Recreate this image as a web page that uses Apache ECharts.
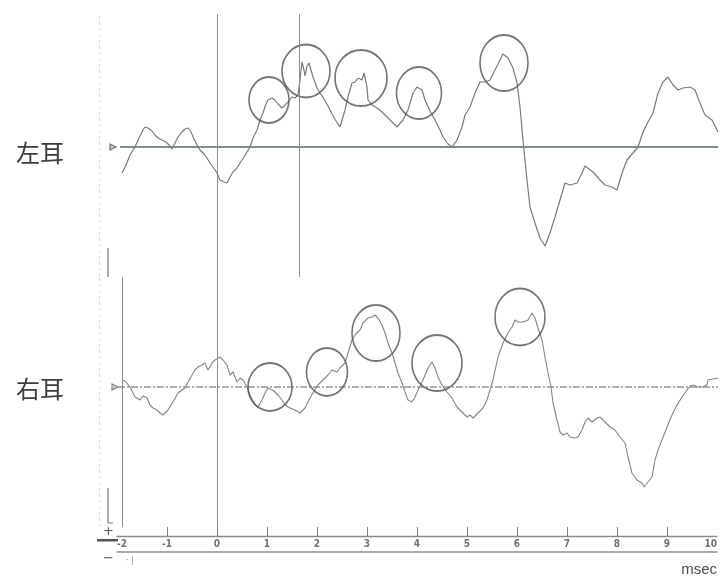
<!DOCTYPE html>
<html>
<head>
<meta charset="utf-8">
<script src="https://cdn.jsdelivr.net/npm/echarts@6/dist/echarts.min.js"></script>
<style>
  html, body { margin: 0; padding: 0; background: #fff; }
  #chart { width: 720px; height: 579px; }
</style>
</head>
<body>
<div id="chart"></div>
<script>
// ---- Time axis (msec) ----
const TICK_LABELS = [-2, -1, 0, 1, 2, 3, 4, 5, 6, 7, 8, 9, 10];
const TICK_MARKS = [-1, 0, 1, 2, 3, 4, 5, 6, 7, 8, 9];

// ---- Left ear ABR trace: [latency ms, amplitude µV] ----
const LEFT_EAR = [
  [-1.90,-0.26],[-1.82,-0.18],[-1.74,-0.08],[-1.64,0.00],[-1.56,0.09],[-1.48,0.17],[-1.44,0.20],
  [-1.38,0.19],[-1.30,0.16],[-1.24,0.12],[-1.18,0.09],[-1.10,0.07],[-1.02,0.05],[-0.96,0.02],
  [-0.90,-0.02],[-0.84,0.04],[-0.78,0.10],[-0.70,0.15],[-0.64,0.18],[-0.58,0.19],[-0.52,0.15],
  [-0.46,0.08],[-0.40,0.02],[-0.34,-0.03],[-0.26,-0.07],[-0.20,-0.11],[-0.14,-0.16],[-0.08,-0.20],
  [0.00,-0.26],[0.06,-0.33],[0.14,-0.35],[0.20,-0.36],[0.26,-0.30],[0.32,-0.25],[0.40,-0.21],
  [0.46,-0.16],[0.54,-0.10],[0.60,-0.05],[0.66,0.00],[0.72,0.09],[0.80,0.17],[0.86,0.27],
  [0.92,0.34],[0.98,0.43],[1.02,0.47],[1.10,0.49],[1.16,0.47],[1.22,0.43],[1.30,0.39],
  [1.36,0.42],[1.42,0.45],[1.50,0.50],[1.56,0.49],[1.62,0.52],[1.66,0.67],[1.70,0.85],
  [1.74,0.77],[1.76,0.71],[1.80,0.81],[1.84,0.84],[1.88,0.77],[1.92,0.70],[2.00,0.59],
  [2.06,0.54],[2.14,0.48],[2.22,0.41],[2.30,0.33],[2.38,0.26],[2.46,0.20],[2.56,0.37],
  [2.62,0.50],[2.70,0.64],[2.76,0.65],[2.82,0.69],[2.90,0.67],[2.94,0.74],[3.00,0.60],
  [3.02,0.47],[3.10,0.42],[3.20,0.39],[3.30,0.35],[3.40,0.30],[3.50,0.25],[3.60,0.20],
  [3.72,0.27],[3.82,0.37],[3.92,0.54],[4.00,0.60],[4.10,0.57],[4.16,0.47],[4.26,0.36],
  [4.36,0.27],[4.46,0.17],[4.52,0.10],[4.62,0.03],[4.70,0.00],[4.80,0.07],[4.90,0.20],
  [4.96,0.32],[5.06,0.40],[5.16,0.54],[5.26,0.65],[5.36,0.65],[5.46,0.67],[5.56,0.77],
  [5.66,0.87],[5.72,0.93],[5.82,0.89],[5.92,0.79],[6.00,0.64],[6.06,0.40],[6.12,0.07],
  [6.20,-0.33],[6.26,-0.60],[6.36,-0.76],[6.46,-0.91],[6.56,-0.99],[6.66,-0.86],[6.76,-0.70],
  [6.86,-0.53],[6.96,-0.36],[7.06,-0.38],[7.20,-0.36],[7.30,-0.26],[7.36,-0.19],[7.52,-0.25],
  [7.66,-0.33],[7.76,-0.38],[7.90,-0.40],[8.00,-0.43],[8.10,-0.26],[8.20,-0.13],[8.32,-0.06],
  [8.42,0.00],[8.52,0.15],[8.62,0.25],[8.72,0.34],[8.82,0.54],[8.92,0.65],[9.02,0.70],
  [9.12,0.62],[9.22,0.57],[9.32,0.59],[9.46,0.60],[9.56,0.57],[9.66,0.44],[9.76,0.32],
  [9.90,0.27],[10.02,0.15]
];

// ---- Right ear ABR trace: [latency ms, amplitude µV] ----
const RIGHT_EAR = [
  [-1.90,0.07],[-1.84,0.06],[-1.74,0.00],[-1.64,-0.10],[-1.54,-0.13],[-1.48,-0.09],[-1.40,-0.11],
  [-1.34,-0.18],[-1.28,-0.21],[-1.20,-0.23],[-1.14,-0.26],[-1.08,-0.28],[-0.98,-0.23],[-0.88,-0.15],
  [-0.78,-0.06],[-0.70,-0.03],[-0.64,-0.01],[-0.58,0.05],[-0.50,0.12],[-0.44,0.17],[-0.38,0.20],
  [-0.30,0.22],[-0.24,0.24],[-0.18,0.17],[-0.10,0.24],[-0.04,0.27],[0.06,0.30],[0.12,0.27],
  [0.20,0.22],[0.26,0.12],[0.32,0.15],[0.40,0.05],[0.46,0.09],[0.52,0.07],[0.60,0.00],
  [0.66,-0.08],[0.76,-0.18],[0.82,-0.20],[0.90,-0.13],[0.96,-0.06],[1.02,-0.01],[1.10,-0.03],
  [1.16,-0.05],[1.22,-0.08],[1.30,-0.13],[1.36,-0.18],[1.46,-0.21],[1.56,-0.23],[1.66,-0.26],
  [1.76,-0.21],[1.86,-0.11],[1.92,-0.06],[2.02,0.02],[2.12,0.07],[2.22,0.12],[2.30,0.17],
  [2.40,0.15],[2.46,0.19],[2.56,0.24],[2.62,0.34],[2.70,0.47],[2.76,0.52],[2.86,0.57],
  [2.92,0.64],[3.02,0.69],[3.10,0.70],[3.16,0.72],[3.22,0.69],[3.30,0.62],[3.36,0.54],
  [3.42,0.44],[3.50,0.34],[3.56,0.24],[3.62,0.14],[3.70,0.04],[3.76,-0.05],[3.82,-0.13],
  [3.90,-0.15],[3.96,-0.10],[4.02,-0.03],[4.12,0.07],[4.22,0.19],[4.30,0.25],[4.36,0.19],
  [4.42,0.10],[4.50,0.02],[4.60,-0.05],[4.70,-0.11],[4.80,-0.20],[4.90,-0.25],[5.00,-0.30],
  [5.06,-0.28],[5.12,-0.31],[5.22,-0.26],[5.32,-0.21],[5.40,-0.13],[5.46,-0.03],[5.52,0.07],
  [5.62,0.30],[5.72,0.44],[5.82,0.54],[5.90,0.60],[5.96,0.67],[6.02,0.65],[6.12,0.65],
  [6.22,0.67],[6.30,0.74],[6.36,0.69],[6.42,0.59],[6.50,0.47],[6.56,0.30],[6.62,0.14],
  [6.68,0.00],[6.72,-0.16],[6.80,-0.33],[6.86,-0.45],[6.92,-0.48],[7.00,-0.46],[7.06,-0.50],
  [7.16,-0.51],[7.22,-0.50],[7.30,-0.43],[7.36,-0.35],[7.42,-0.31],[7.50,-0.35],[7.60,-0.31],
  [7.66,-0.30],[7.76,-0.35],[7.86,-0.40],[7.96,-0.43],[8.06,-0.50],[8.16,-0.56],[8.22,-0.70],
  [8.30,-0.86],[8.40,-0.93],[8.50,-0.96],[8.54,-1.00],[8.62,-0.95],[8.70,-0.90],[8.76,-0.73],
  [8.82,-0.63],[8.90,-0.53],[9.00,-0.40],[9.10,-0.28],[9.20,-0.18],[9.30,-0.10],[9.40,-0.03],
  [9.46,0.01],[9.52,0.02],[9.62,0.00],[9.72,0.00],[9.80,0.02],[9.82,0.07],[9.92,0.08],
  [10.02,0.09]
];

// ---- Marked waves I–V (ring centres) ----
const LEFT_PEAKS = [[1.04,0.47],[1.78,0.76],[2.88,0.69],[4.04,0.54],[5.74,0.84]];
const RIGHT_PEAKS = [[1.06,0.00],[2.20,0.15],[3.18,0.54],[4.40,0.24],[6.06,0.70]];

// ---- Cursors, baselines and calibration bars ----
const STIM_ONSET = 0;
const LEFT_CURSOR = 1.64;
const RIGHT_SWEEP_START = -1.9;
const FRAME_EDGE = -2.36;
const LEFT_BASELINE = [[-1.94, 0], [10.02, 0]];
const RIGHT_BASELINE = [[-1.98, 0], [10.02, 0]];
const LEFT_BASE_MARK = [[-2.08, 0]];
const RIGHT_BASE_MARK = [[-2.04, 0]];
const LEFT_CAL = [[-2.18, -1.01], [-2.18, -1.30]];
const RIGHT_CAL = [[-2.18, -1.01], [-2.18, -1.36], [-2.08, -1.36]];

// ---- Styling ----
const TRACE = '#7a7a7a';
const RING = '#525252';
const CURSOR = '#8e8e8e';
const LEFT_RING_SIZE = [[40, 46], [48, 53], [52, 56], [45, 52], [48, 56]];
const RIGHT_RING_SIZE = [[44, 48], [41, 48], [48, 56], [50, 56], [50, 57]];

const chart = echarts.init(document.getElementById('chart'), null, { renderer: 'canvas' });

const vLine = (x, style) => ({ xAxis: x, lineStyle: style });
const markLineBase = { silent: true, symbol: ['none', 'none'], label: { show: false }, emphasis: { disabled: true }, animation: false };
const plainLine = (xi, yi, data, style, z) => ({
  type: 'line', xAxisIndex: xi, yAxisIndex: yi, data: data, showSymbol: false, silent: true,
  lineStyle: style, z: z || 2, emphasis: { disabled: true }
});

const option = {
  animation: false,
  backgroundColor: '#ffffff',
  title: [
    { text: '左耳', left: 11, top: 136, textStyle: { fontSize: 24, fontWeight: 'normal', color: '#3c3c3c', fontFamily: 'Noto Sans CJK JP' } },
    { text: '右耳', left: 11, top: 372, textStyle: { fontSize: 24, fontWeight: 'normal', color: '#3c3c3c', fontFamily: 'Noto Sans CJK JP' } }
  ],
  grid: [
    { left: 117, right: 3, top: 14, bottom: 43 },          // time axis
    { left: 95, right: 3, top: 14, height: 263 },          // left ear
    { left: 95, right: 3, top: 277, height: 250 }          // right ear
  ],
  xAxis: [
    {
      type: 'value', gridIndex: 0, min: -2, max: 10, position: 'bottom',
      axisLine: { show: true, lineStyle: { color: '#8a8a8a', width: 1.3 } },
      axisTick: { show: true, inside: true, length: 9, customValues: TICK_MARKS, lineStyle: { color: '#7a7a7a', width: 1 } },
      axisLabel: {
        customValues: TICK_LABELS, margin: 3, fontSize: 10, fontWeight: 'bold', color: '#707070',
        fontFamily: 'DejaVu Sans Condensed', alignMinLabel: 'left', alignMaxLabel: 'right'
      },
      splitLine: { show: false }
    },
    {
      type: 'value', gridIndex: 0, min: -2, max: 10, position: 'bottom', offset: 16,
      axisLine: { show: true, lineStyle: { color: '#909090', width: 1.5 } },
      axisTick: { show: false }, axisLabel: { show: false }, splitLine: { show: false }
    },
    { type: 'value', gridIndex: 1, min: -2.44, max: 10, show: false },
    { type: 'value', gridIndex: 2, min: -2.44, max: 10, show: false }
  ],
  yAxis: [
    { type: 'value', gridIndex: 0, min: 0, max: 1, show: false },
    { type: 'value', gridIndex: 1, min: -1.30, max: 1.33, show: false },
    { type: 'value', gridIndex: 2, min: -1.40, max: 1.10, show: false }
  ],
  graphic: [
    { type: 'text', left: 103, top: 525, style: { text: '+', fontSize: 13, fill: '#555', fontFamily: 'DejaVu Sans' } },
    { type: 'rect', shape: { x: 97, y: 539, width: 21, height: 2.5 }, style: { fill: '#555' } },
    { type: 'text', left: 103, top: 552, style: { text: '−', fontSize: 13, fill: '#555', fontFamily: 'DejaVu Sans' } },
    { type: 'text', left: 126, top: 556, style: { text: '· |', fontSize: 9, fill: '#888', fontFamily: 'DejaVu Sans Condensed' } },
    { type: 'text', right: 3, top: 562, style: { text: 'msec', fontSize: 15, fill: '#4a4a4a', fontFamily: 'Liberation Sans' } }
  ],
  series: [
    // baselines
    plainLine(2, 1, LEFT_BASELINE, { color: '#4e6f5e', width: 1.6, type: 'solid' }, 2),
    plainLine(3, 2, RIGHT_BASELINE, { color: '#8a9c91', width: 1.3, type: [7, 2, 2, 2] }, 2),
    // calibration bars
    plainLine(2, 1, LEFT_CAL, { color: '#777', width: 1.2 }, 2),
    plainLine(3, 2, RIGHT_CAL, { color: '#777', width: 1.2 }, 2),
    {
      name: '左耳', type: 'line', xAxisIndex: 2, yAxisIndex: 1, data: LEFT_EAR,
      showSymbol: false, smooth: false, lineStyle: { color: TRACE, width: 1.2 }, z: 3,
      markLine: Object.assign({}, markLineBase, {
        data: [
          vLine(FRAME_EDGE, { color: '#dcdcdc', width: 1, type: [3, 3] }),
          vLine(STIM_ONSET, { color: CURSOR, width: 1, type: 'solid' }),
          vLine(LEFT_CURSOR, { color: CURSOR, width: 1, type: 'solid' })
        ]
      })
    },
    {
      name: '右耳', type: 'line', xAxisIndex: 3, yAxisIndex: 2, data: RIGHT_EAR,
      showSymbol: false, smooth: false, lineStyle: { color: '#848484', width: 1.1 }, z: 3,
      markLine: Object.assign({}, markLineBase, {
        data: [
          vLine(FRAME_EDGE, { color: '#dcdcdc', width: 1, type: [3, 3] }),
          vLine(STIM_ONSET, { color: CURSOR, width: 1, type: 'solid' }),
          vLine(RIGHT_SWEEP_START, { color: CURSOR, width: 1, type: 'solid' })
        ]
      })
    },
    {
      type: 'scatter', xAxisIndex: 2, yAxisIndex: 1, data: LEFT_PEAKS, silent: true, z: 4,
      symbol: 'circle', symbolSize: (v, p) => LEFT_RING_SIZE[p.dataIndex],
      itemStyle: { color: 'rgba(0,0,0,0)', borderColor: RING, borderWidth: 1.7 }
    },
    {
      type: 'scatter', xAxisIndex: 3, yAxisIndex: 2, data: RIGHT_PEAKS, silent: true, z: 4,
      symbol: 'circle', symbolSize: (v, p) => RIGHT_RING_SIZE[p.dataIndex],
      itemStyle: { color: 'rgba(0,0,0,0)', borderColor: RING, borderWidth: 1.7 }
    },
    {
      type: 'scatter', xAxisIndex: 2, yAxisIndex: 1, data: LEFT_BASE_MARK, silent: true,
      symbol: 'triangle', symbolRotate: -90, symbolSize: 6, itemStyle: { color: '#bbb', borderColor: '#555', borderWidth: 1.2 }
    },
    {
      type: 'scatter', xAxisIndex: 3, yAxisIndex: 2, data: RIGHT_BASE_MARK, silent: true,
      symbol: 'triangle', symbolRotate: -90, symbolSize: 6, itemStyle: { color: '#ccc', borderColor: '#666', borderWidth: 1.1 }
    }
  ]
};

chart.setOption(option);
</script>
</body>
</html>
